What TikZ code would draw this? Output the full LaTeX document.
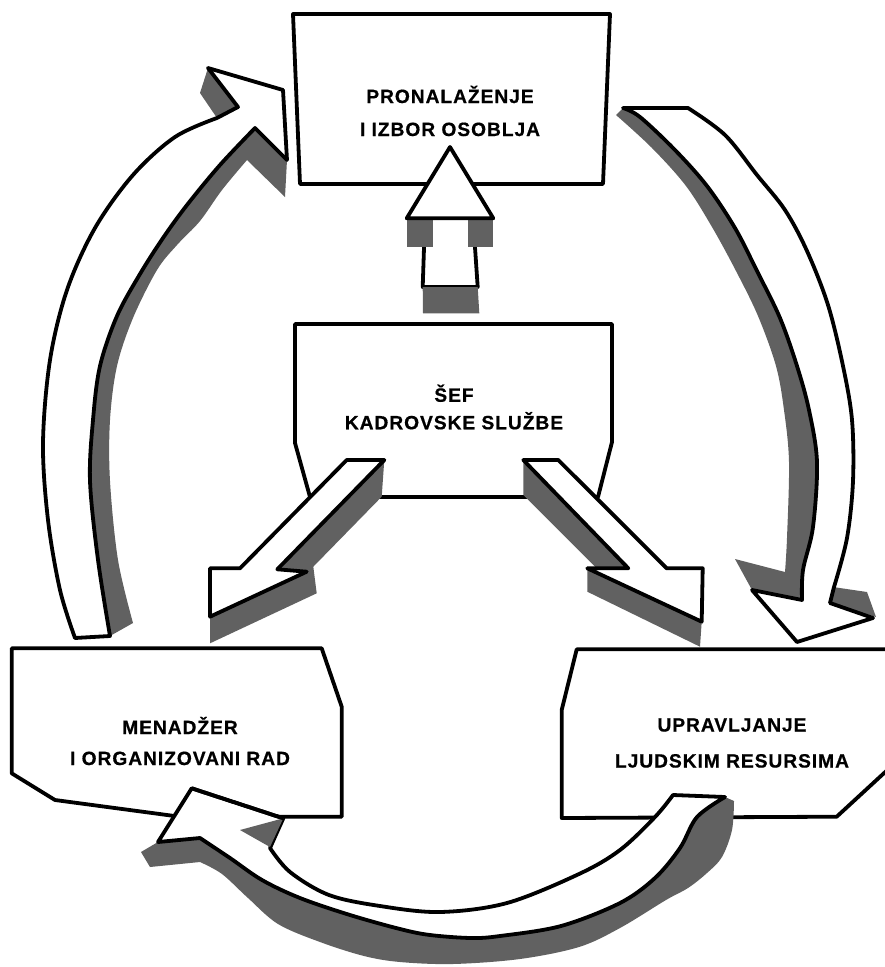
\documentclass[tikz,border=0pt]{standalone}
\usepackage{fontspec}
\setmainfont{Liberation Sans}
\newfontfamily\labelfont{Liberation Sans}[LetterSpace=5,FakeBold=0.6]
\begin{document}
\begin{tikzpicture}[x=1pt,y=-1pt,
  outline/.style={draw=black,line width=3.8pt,line join=round},
  face/.style={outline,fill=white},
  relief/.style={fill=black!62},
  boxtext/.style={align=center,inner sep=0pt,
    font=\labelfont\bfseries\fontsize{19.2}{#1}\selectfont}]
\useasboundingbox[fill=white] (0,0) rectangle (884,967);

% ---------- boxes ----------
\draw[face] (293,14) -- (610,14) -- (603,184) -- (300,184) -- cycle;
\node[boxtext=33] (find) at (450,111) {PRONALAŽENJE\\I IZBOR OSOBLJA};

\draw[face] (295,324) -- (612,324) -- (612,442) -- (598,497) -- (310,497) -- (295,443) -- cycle;
\node[boxtext=27.5] (chief) at (454,407) {ŠEF\\KADROVSKE SLUŽBE};

\draw[face] (11.7,648.3) -- (321.7,648.3) -- (341.7,706.7) -- (341.7,816.7)
  -- (182,817) -- (55,800) -- (11.7,773.3) -- cycle;
\node[boxtext=31] (mgr) at (180,741) {MENADŽER\\I ORGANIZOVANI RAD};

\draw[face] (576.7,649.3) -- (895,649.3) -- (895,763) -- (836.7,816.7)
  -- (561.7,818) -- (561.7,710) -- cycle;
\node[boxtext=36] (hrm) at (732,743) {UPRAVLJANJE\\LJUDSKIM RESURSIMA};

% ---------- straight block arrow: chief -> recruitment ----------
\draw[face] (425,218) -- (473,218) -- (477.7,287) -- (422.7,287) -- cycle;
\fill[relief] (422.7,287) -- (477.7,287) -- (479.3,313.3) -- (423,313.3) -- cycle;
\fill[relief] (406.7,218.3) rectangle (433.3,246.7);
\fill[relief] (468.3,218.3) rectangle (493.3,246.7);
\draw[face] (450,147) -- (493.3,218.3) -- (406.7,218.3) -- cycle;

% ---------- diagonal block arrow: chief -> manager ----------
\fill[relief] (384.3,460) -- (381.7,496.7) -- (313.3,566.7) -- (316.7,593.3)
  -- (210,643.3) -- (210,616.7) -- (306.7,571.7) -- (277.3,569.3) -- cycle;
\draw[face] (346.7,460) -- (384.3,460) -- (277.3,569.3) -- (306.7,571.7)
  -- (210,616.7) -- (210,568.3) -- (240,568.3) -- cycle;

% ---------- diagonal block arrow: chief -> HR management ----------
\fill[relief] (523.3,460) -- (523.3,495) -- (596.7,568.3) -- (628.3,568.3) -- cycle;
\fill[relief] (587.3,568.3) -- (587.3,591.7) -- (700,646.7) -- (701.7,621.7) -- cycle;
\draw[face] (523.3,460) -- (558.3,460) -- (666.7,568.3) -- (702.7,568.3)
  -- (701.7,621.7) -- (587.3,568.3) -- (628.3,568.3) -- cycle;

% ---------- curved arrow: manager -> recruitment (left) ----------
\fill[relief] plot[smooth,tension=0.55] coordinates {(110,636) (98,560) (90,481) (93,420)
    (100,366) (117,316) (140,274) (163,238) (187,205) (220,165) (255,128)}
  -- (287,160) -- (285,197) -- (247,160)
  -- plot[smooth,tension=0.55] coordinates {(247,160) (222,190) (200,221) (177,245)
    (157,270) (133,318) (117,366) (110,420) (110,481) (118,560) (133,623)} -- cycle;
\fill[relief] (208,68) -- (200,93) -- (217,118) -- (238,107) -- cycle;
\draw[face] (75,638) -- (110,636)
  -- plot[smooth,tension=0.55] coordinates {(110,636) (98,560) (90,481) (93,420)
    (100,366) (117,316) (140,274) (163,238) (187,205) (220,165) (255,128)}
  -- (287,160) -- (283,90) -- (208,68) -- (238,107) -- (217,118)
  -- plot[smooth,tension=0.55] coordinates {(217,118) (175,137) (133,175) (95,228)
    (67,290) (50,360) (43,443) (48,520) (60,590) (75,638)} -- cycle;

% ---------- curved arrow: recruitment -> HR management (right) ----------
\fill[relief] plot[smooth,tension=0.55] coordinates {(623,108) (640,117) (675,150) (707,186)
    (735,228) (757,271) (780,318) (797,366) (809,410) (817,462) (813,527) (803,570) (802,600)}
  -- (752,590) -- (735,559) -- (785,572)
  -- plot[smooth,tension=0.55] coordinates {(785,572) (787,538) (789,462) (784,410)
    (776,366) (758,316) (736,271) (712,227) (686,186) (652,148) (616,115)} -- cycle;
\fill[relief] (833,587) -- (867,592) -- (876,617) -- (830,603) -- cycle;
\draw[face] (623,108) -- (688,108)
  -- plot[smooth,tension=0.55] coordinates {(688,108) (725,135) (757,175) (785,210)
    (807,251) (828,305) (843,366) (852,420) (853,481) (847,538) (834,587)}
  -- (830,603) -- (873,618) -- (797,642) -- (752,590) -- (802,600)
  -- plot[smooth,tension=0.55] coordinates {(802,600) (803,570) (813,527) (817,462)
    (809,410) (797,366) (780,318) (757,271) (735,228) (707,186) (675,150) (640,117) (623,108)}
  -- cycle;

% ---------- curved arrow: HR management -> manager (bottom) ----------
\fill[relief] (158,842) -- (200,838)
  -- plot[smooth,tension=0.55] coordinates {(200,838) (230,858) (262,880) (300,898)
    (350,915) (400,929) (430,935) (471,938) (500,936) (561,926) (620,903) (655,878)
    (680,848) (697,817) (725,797)}
  -- (734,801)
  -- plot[smooth,tension=0.55] coordinates {(734,801) (732,830) (722,857) (707,873)
    (688,888) (666,900) (620,928) (579,947) (520,959) (453,964) (400,962) (364,956)
    (320,942) (278,924) (248,898) (222,874) (200,862)}
  -- (150,867) -- (141,852) -- cycle;
\draw[face] (191.7,788.3) -- (283.3,818.3) -- (270,848)
  -- plot[smooth,tension=0.55] coordinates {(270,848) (290,872) (329,895) (380,906)
    (440,912) (507,903) (579,874) (620,850) (655,817) (673,795)}
  -- (725,797)
  -- plot[smooth,tension=0.55] coordinates {(725,797) (697,817) (680,848) (655,878)
    (620,903) (561,926) (500,936) (471,938) (430,935) (400,929) (350,915) (300,898)
    (262,880) (230,858) (200,838)}
  -- (158,842) -- cycle;
\fill[relief] (240,830) -- (283.3,818.3) -- (270,847) -- cycle;
\draw[outline] (191.7,788.3) -- (283.3,818.3);
\end{tikzpicture}
\end{document}
